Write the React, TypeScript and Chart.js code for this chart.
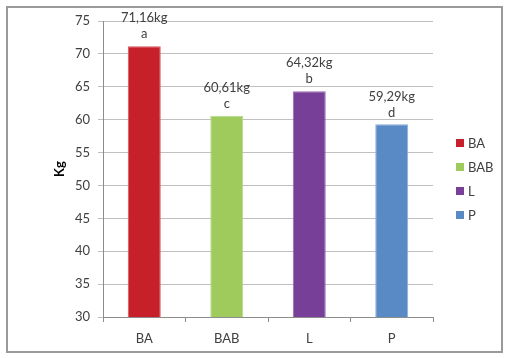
import React, { useEffect, useRef } from "react";
import { Chart, registerables } from "chart.js";

Chart.register(...registerables);

const categories = ["BA", "BAB", "L", "P"];
const weights = [71.16, 60.61, 64.32, 59.29];
const valueLabels = ["71,16kg", "60,61kg", "64,32kg", "59,29kg"];
const letters = ["a", "c", "b", "d"];
const barColors = ["#C6202A", "#9ECB5C", "#783F98", "#5A8AC5"];
const barBorders = ["#D9535A", "#B5D888", "#9A6CB3", "#8AAED8"];
const yTitle = "Kg";

const FONT = "Lato, 'Open Sans', sans-serif";
const TEXT = "#404040";

const framePlugin = {
  id: "frame",
  beforeDraw(chart: any) {
    const ctx = chart.ctx;
    ctx.save();
    ctx.fillStyle = "#ffffff";
    ctx.fillRect(0, 0, chart.width, chart.height);
    ctx.restore();
  },
  afterDraw(chart: any) {
    const ctx = chart.ctx;
    const area = chart.chartArea;
    ctx.save();
    // outer border
    ctx.strokeStyle = "#9a9a9a";
    ctx.lineWidth = 2;
    ctx.strokeRect(7, 7, 495, 345);

    // data labels
    const meta = chart.getDatasetMeta(0);
    ctx.fillStyle = TEXT;
    ctx.font = `13px ${FONT}`;
    ctx.textAlign = "center";
    ctx.textBaseline = "middle";
    meta.data.forEach((bar: any, i: number) => {
      ctx.fillText(valueLabels[i], bar.x, bar.y - 28);
      ctx.fillText(letters[i], bar.x, bar.y - 12);
    });

    // legend
    const lx = area.right + 23;
    const ly = area.top + 122;
    ctx.textAlign = "left";
    categories.forEach((c, i) => {
      const cy = ly + i * 24;
      ctx.fillStyle = barColors[i];
      ctx.fillRect(lx, cy - 4, 8, 8);
      ctx.fillStyle = TEXT;
      ctx.fillText(c, lx + 12, cy + 1);
    });
    ctx.restore();
  },
};

export default function App() {
  const ref = useRef<HTMLCanvasElement | null>(null);
  useEffect(() => {
    document.body.style.margin = "0";
    const canvas = ref.current!;
    const chart = new Chart(canvas, {
      type: "bar",
      data: {
        labels: categories,
        datasets: [
          {
            data: weights,
            backgroundColor: barColors,
            borderColor: barBorders,
            borderWidth: 1,
            barPercentage: 0.4,
            categoryPercentage: 1,
          },
        ],
      },
      options: {
        animation: false,
        responsive: false,
        maintainAspectRatio: false,
        layout: { padding: { left: 52, right: 75, top: 21, bottom: 0 } },
        plugins: {
          legend: { display: false },
          tooltip: { enabled: false },
        },
        scales: {
          x: {
            offset: true,
            grid: {
              offset: true,
              drawOnChartArea: false,
              drawTicks: true,
              tickLength: 5,
              color: "#8c8c8c",
            },
            border: { color: "#8c8c8c" },
            ticks: {
              color: TEXT,
              font: { family: FONT, size: 13 },
              padding: 9,
            },
            afterFit: (s: any) => {
              s.height = 41;
            },
          },
          y: {
            min: 30,
            max: 75,
            ticks: {
              stepSize: 5,
              color: TEXT,
              font: { family: FONT, size: 13 },
              padding: 8,
            },
            grid: { color: "#c0c0c0", tickLength: 5 },
            border: { color: "#8c8c8c" },
            title: {
              display: true,
              text: yTitle,
              color: "#000000",
              font: { family: FONT, size: 13, weight: "bold" },
              padding: 0,
            },
            afterFit: (s: any) => {
              s.width = 51;
            },
          },
        },
      },
      plugins: [framePlugin],
    });
    return () => chart.destroy();
  }, []);
  return (
    <div style={{ width: 508, height: 358 }}>
      <canvas ref={ref} width={508} height={358} style={{ display: "block" }} />
    </div>
  );
}
